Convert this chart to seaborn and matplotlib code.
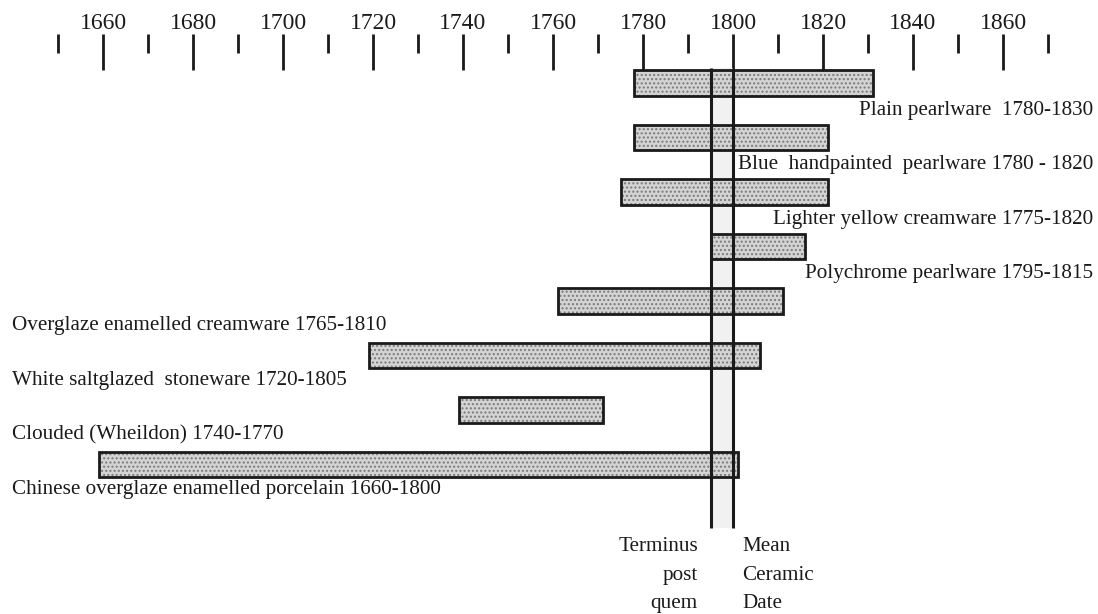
import numpy as np
import pandas as pd
import seaborn as sns
import matplotlib.pyplot as plt

# ware types, top to bottom
wares = [
    "Plain pearlware",
    "Blue handpainted pearlware",
    "Lighter yellow creamware",
    "Polychrome pearlware",
    "Overglaze enamelled creamware",
    "White saltglazed stoneware",
    "Clouded (Wheildon)",
    "Chinese overglaze enamelled porcelain",
]
labels = [
    "Plain pearlware  1780-1830",
    "Blue  handpainted  pearlware 1780 - 1820",
    "Lighter yellow creamware 1775-1820",
    "Polychrome pearlware 1795-1815",
    "Overglaze enamelled creamware 1765-1810",
    "White saltglazed  stoneware 1720-1805",
    "Clouded (Wheildon) 1740-1770",
    "Chinese overglaze enamelled porcelain 1660-1800",
]
# bar extents as drawn
starts = [1778, 1778, 1775, 1795, 1761, 1719, 1739, 1659]
ends = [1831, 1821, 1821, 1816, 1811, 1806, 1771, 1801]

major_years = list(range(1660, 1861, 20))
minor_years = list(range(1650, 1871, 20))

tpq = 1795   # terminus post quem
mcd = 1800   # mean ceramic date

df = pd.DataFrame({"ware": wares, "start": starts, "end": ends})
df["span"] = df["end"] - df["start"]

sns.set_theme(style="white")
plt.rcParams["font.family"] = ["Liberation Serif", "DejaVu Serif"]
ink = "#1a1a1a"

fig = plt.figure(figsize=(10.98, 6.14), dpi=100)
ax = fig.add_axes([0, 0, 1, 580 / 614])

# stippled fill
sns.barplot(
    data=df, x="span", y="ware", order=wares, orient="y",
    left=df["start"].to_numpy(), width=0.46, errorbar=None,
    color="#d4d4d4", edgecolor="#7a7a7a", hatch="....", linewidth=0,
    zorder=2, ax=ax,
)
# black outline
sns.barplot(
    data=df, x="span", y="ware", order=wares, orient="y",
    left=df["start"].to_numpy(), width=0.46, errorbar=None,
    fill=False, color=ink, linewidth=2, zorder=3, ax=ax,
)

# band between the two dates
ax.fill_betweenx([-0.275, 8.165], tpq, mcd, color="#f1f1f1", zorder=1, lw=0)
ax.vlines([tpq, mcd], -0.275, 8.165, color=ink, lw=2.2, zorder=4)

# ware labels
for i, lab in enumerate(labels):
    if i < 4:
        ax.text(1880.1, i + 0.5, lab, ha="right", va="center", fontsize=15.2, color=ink)
    else:
        ax.text(1639.8, i + 0.45, lab, ha="left", va="center", fontsize=15.2, color=ink)

ax.text(1792.2, 8.33, "Terminus\npost\nquem", ha="right", va="top",
        multialignment="right", fontsize=15.2, color=ink, linespacing=1.68)
ax.text(1802, 8.33, "Mean\nCeramic\nDate", ha="left", va="top",
        fontsize=15.2, color=ink, linespacing=1.68)

ax.set_xlim(1650 - 58 / 4.5, 1650 + 1040 / 4.5)
ax.set_ylim((614 - 83) / 54.5, (34 - 83) / 54.5)

ax.xaxis.tick_top()
ax.set_xticks(major_years)
ax.set_xticks(minor_years, minor=True)
ax.tick_params(axis="x", which="major", direction="in", length=26, width=2,
               color=ink, labelsize=17, labelcolor=ink, pad=0,
               top=True, bottom=False, labeltop=True, labelbottom=False)
ax.tick_params(axis="x", which="minor", direction="in", length=13.5, width=2,
               color=ink, top=True, bottom=False)
ax.set_yticks([])
ax.set_xlabel("")
ax.set_ylabel("")
for s in ax.spines.values():
    s.set_visible(False)

fig.savefig("out.png", dpi=100)
